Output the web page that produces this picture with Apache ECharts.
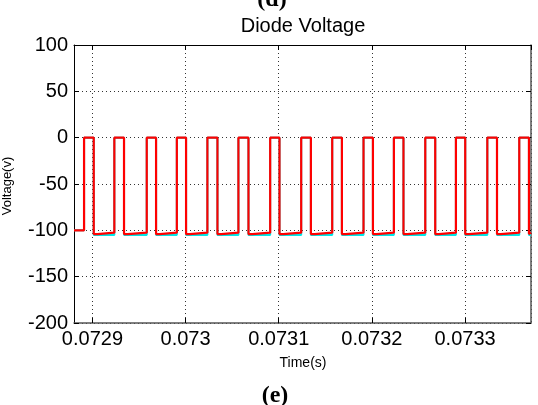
<!DOCTYPE html>
<html>
<head>
<meta charset="utf-8">
<script src="https://cdn.jsdelivr.net/npm/echarts@6/dist/echarts.min.js"></script>
<style>
html,body{margin:0;padding:0;background:#fff;}
#c{width:538px;height:405px;}
</style>
</head>
<body>
<div id="c"></div>
<script>
// ---- data ----
const timeStart = 0.0728802;   // left end of the record (s)
const timeEnd = 0.0733708;     // right end of the record (s)
const startLevel = -100;       // level before the first pulse (V)
const riseT = [0.0728910, 0.0729235, 0.0729583, 0.0729906, 0.0730234, 0.0730567, 0.0730908,
               0.0731241, 0.0731574, 0.0731910, 0.0732236, 0.0732573, 0.0732902, 0.0733239, 0.0733582];
const fallT = [0.0729014, 0.0729339, 0.0729683, 0.0730005, 0.0730342, 0.0730675, 0.0731008,
               0.0731345, 0.0731678, 0.0732011, 0.0732339, 0.0732680, 0.0733002, 0.0733343, 0.0733686];
const stepT = [0.0729054, 0.0729380, 0.0729723, 0.0730045, 0.0730382, 0.0730715, 0.0731048,
               0.0731385, 0.0731718, 0.0732051, 0.0732379, 0.0732720, 0.0733042, 0.0733383, 0.0733700];
const pulseTop = [0, 0, 0, 0, 0, 0, 0, 0, 0, 0, 0, 0, 0, 0, 0];
const redLowA = [-104, -104, -104, -104, -104, -104, -104, -104, -104, -104, -104, -104, -104, -104, -104];
const redLowB = [-102.5, -102.5, -102.5, -102.5, -102.5, -102.5, -102.5, -102.5, -102.5, -102.5, -102.5, -102.5, -102.5, -102.5, -102.5];
const cyanLow = [-105, -105, -105, -105, -105, -105, -105, -105, -105, -105, -105, -105, -105, -105, -105];
const yTicks = [-200, -150, -100, -50, 0, 50, 100];

// ---- build step waveforms from the arrays ----
function wave(lowA, lowB) {
  const pts = [[timeStart, startLevel]];
  let prev = startLevel;
  for (let i = 0; i < riseT.length; i++) {
    pts.push([riseT[i], prev]);
    pts.push([riseT[i], pulseTop[i]]);
    pts.push([fallT[i], pulseTop[i]]);
    pts.push([fallT[i], lowA[i]]);
    pts.push([stepT[i], lowA[i]]);
    pts.push([stepT[i], lowB[i]]);
    prev = lowB[i];
  }
  pts.push([timeEnd, prev]);
  return pts;
}
const redData = wave(redLowA, redLowB);
const cyanData = wave(cyanLow, cyanLow);

const chart = echarts.init(document.getElementById('c'), null, {renderer: 'canvas'});
const labelFont = {fontFamily: 'Liberation Sans, Arial, sans-serif', fontSize: 20, color: '#000'};
const gridLine = {show: true, lineStyle: {color: '#333', type: [1, 3], width: 1}};
const xFmt = v => (+v).toFixed(4).replace(/0+$/, '');

chart.setOption({
  animation: false,
  backgroundColor: '#fff',
  grid: {left: 74, right: 7, top: 45, bottom: 82, containLabel: false},
  xAxis: [
    {type: 'value', min: timeStart, max: timeEnd, splitNumber: 5, position: 'bottom',
     axisLine: {show: true, onZero: false, lineStyle: {color: '#555', width: 1.5}},
     axisTick: {show: true, inside: true, length: 5, lineStyle: {color: '#000'}},
     axisLabel: Object.assign({margin: 6, showMinLabel: false, showMaxLabel: false, formatter: xFmt}, labelFont),
     splitLine: gridLine},
    {type: 'value', min: timeStart, max: timeEnd, splitNumber: 5, position: 'top',
     axisLine: {show: true, onZero: false, lineStyle: {color: '#000', width: 1}},
     axisTick: {show: true, inside: true, length: 5, lineStyle: {color: '#000'}},
     axisLabel: {show: false}, splitLine: {show: false}}
  ],
  yAxis: [
    {type: 'value', min: yTicks[0], max: yTicks[yTicks.length - 1], interval: 50, position: 'left',
     axisLine: {show: true, onZero: false, lineStyle: {color: '#000', width: 1}},
     axisTick: {show: true, inside: true, length: 5, lineStyle: {color: '#000'}},
     axisLabel: Object.assign({margin: 6}, labelFont),
     splitLine: gridLine},
    {type: 'value', min: yTicks[0], max: yTicks[yTicks.length - 1], interval: 50, position: 'right',
     axisLine: {show: true, onZero: false, lineStyle: {color: '#555', width: 1.5}},
     axisTick: {show: true, inside: true, length: 5, lineStyle: {color: '#000'}},
     axisLabel: {show: false}, splitLine: {show: false}}
  ],
  series: [
    {type: 'line', name: 'cyan', data: cyanData, showSymbol: false, xAxisIndex: 0, yAxisIndex: 0,
     lineStyle: {color: '#00e8e8', width: 2}, silent: true},
    {type: 'line', name: 'red', data: redData, showSymbol: false, xAxisIndex: 0, yAxisIndex: 0,
     lineStyle: {color: '#ff0000', width: 2.2}, silent: true}
  ],
  graphic: [
    {type: 'text', x: 272, y: 12, style: {text: '(d)', font: 'bold 24px "Liberation Serif", "Times New Roman", serif', fill: '#000', textAlign: 'center', textVerticalAlign: 'bottom'}},
    {type: 'text', x: 303, y: 16, style: {text: 'Diode Voltage', font: '20px "Liberation Sans", Arial, sans-serif', fill: '#000', textAlign: 'center', textVerticalAlign: 'top'}},
    {type: 'text', x: 303, y: 363, style: {text: 'Time(s)', font: '14px "Liberation Sans", Arial, sans-serif', fill: '#000', textAlign: 'center', textVerticalAlign: 'middle'}},
    {type: 'text', x: 7, y: 186, rotation: Math.PI / 2, style: {text: 'Voltage(v)', font: '13px "Liberation Sans", Arial, sans-serif', fill: '#000', textAlign: 'center', textVerticalAlign: 'middle'}},
    {type: 'text', x: 275, y: 396, style: {text: '(e)', font: 'bold 24px "Liberation Serif", "Times New Roman", serif', fill: '#000', textAlign: 'center', textVerticalAlign: 'middle'}}
  ]
});
</script>
</body>
</html>
